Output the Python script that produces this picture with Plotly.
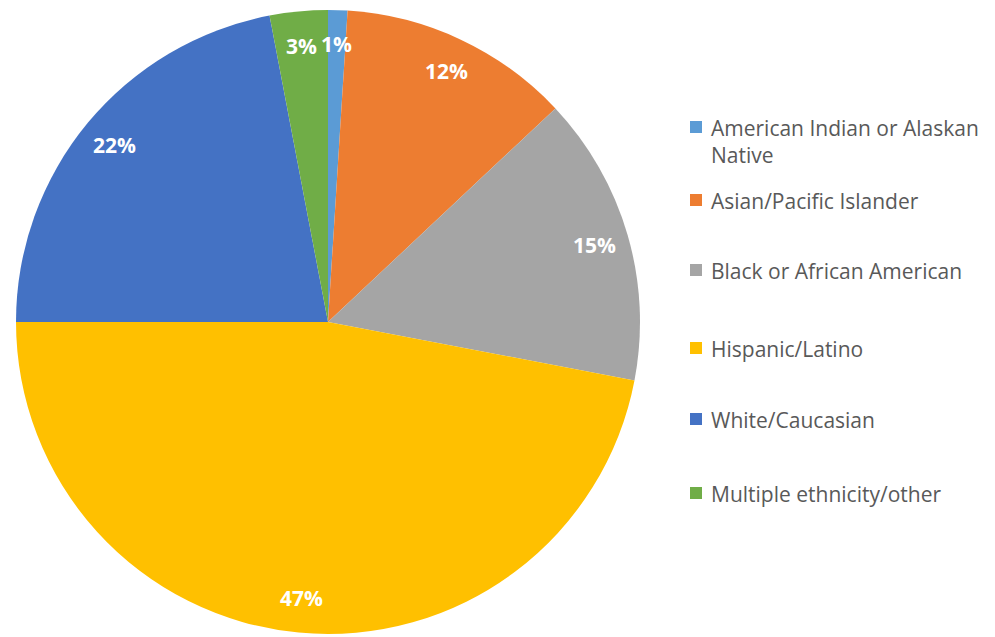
import math
import plotly.graph_objects as go

# Share of enrolment by ethnicity (percent)
categories = [
    "American Indian or Alaskan Native",
    "Asian/Pacific Islander",
    "Black or African American",
    "Hispanic/Latino",
    "White/Caucasian",
    "Multiple ethnicity/other",
]
legend_labels = [
    "American Indian or Alaskan<br>Native",
    "Asian/Pacific Islander",
    "Black or African American",
    "Hispanic/Latino",
    "White/Caucasian",
    "Multiple ethnicity/other",
]
values = [1, 12, 15, 47, 22, 3]
colors = ["#5B9BD5", "#ED7D31", "#A5A5A5", "#FFC000", "#4472C4", "#70AD47"]

W, H = 995, 637
# pie placement in pixels
cx_px, cy_px, r_px = 328, 322, 312
dom_x = [(cx_px - r_px) / W, (cx_px + r_px) / W]
dom_y = [1 - (cy_px + r_px) / H, 1 - (cy_px - r_px) / H]

fig = go.Figure(
    go.Pie(
        labels=categories,
        values=values,
        sort=False,
        direction="clockwise",
        rotation=0,
        marker=dict(colors=colors, line=dict(width=0)),
        textinfo="none",
        hoverinfo="label+percent",
        showlegend=False,
        domain=dict(x=dom_x, y=dom_y),
    )
)

annotations = []
shapes = []

# percentage labels near the outer rim of each slice
total = sum(values)
cum = 0.0
cx_p = (dom_x[0] + dom_x[1]) / 2
cy_p = (dom_y[0] + dom_y[1]) / 2
lab_r = 0.89 * r_px
for v in values:
    mid = (cum + v / 2) / total * 2 * math.pi
    cum += v
    pct = round(v / total * 100)
    annotations.append(dict(
        x=cx_p + lab_r * math.sin(mid) / W,
        y=cy_p + lab_r * math.cos(mid) / H,
        xref="paper", yref="paper",
        text=f"<b>{pct}%</b>",
        showarrow=False,
        xanchor="center", yanchor="middle",
        font=dict(family="Open Sans", size=21, color="white"),
    ))

# legend on the right
legend_y_px = [127, 200, 270, 348, 419, 493]
sq = 12
for lab, col, ypx in zip(legend_labels, colors, legend_y_px):
    shapes.append(dict(
        type="rect", xref="paper", yref="paper",
        x0=690 / W, x1=(690 + sq) / W,
        y0=1 - (ypx + sq / 2) / H, y1=1 - (ypx - sq / 2) / H,
        fillcolor=col, line=dict(width=0),
    ))
    annotations.append(dict(
        x=709 / W, y=1 - (ypx - 15) / H,
        xref="paper", yref="paper",
        text=lab, showarrow=False, align="left",
        xanchor="left", yanchor="top",
        font=dict(family="Open Sans", size=21, color="#595959"),
    ))

fig.update_layout(
    width=W, height=H,
    margin=dict(l=0, r=0, t=0, b=0),
    paper_bgcolor="white",
    plot_bgcolor="white",
    annotations=annotations,
    shapes=shapes,
)

fig.write_html("out.html")
